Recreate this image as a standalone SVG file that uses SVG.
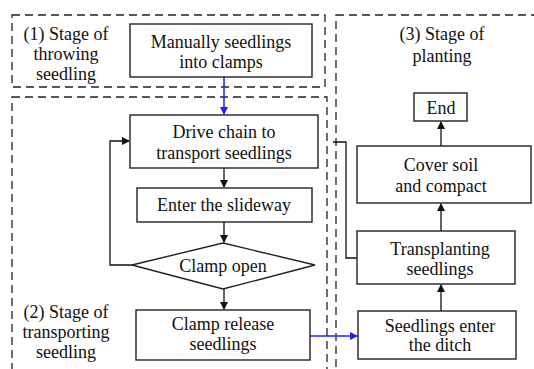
<svg xmlns="http://www.w3.org/2000/svg" width="534" height="369" viewBox="0 0 534 369">
<style>
.bg{fill:#fff}
.stage{fill:none;stroke:#222;stroke-width:1.3;stroke-dasharray:8,5}
.box{fill:#fff;stroke:#222;stroke-width:1.4}
.t{font-size:18px;fill:#111;text-anchor:middle}
.c{fill:none;stroke:#111;stroke-width:1.3}
.b{fill:none;stroke:#1f1fff;stroke-width:1.5}
</style>
<defs>
<marker id="ak" markerWidth="8" markerHeight="8" refX="7" refY="4" orient="auto" markerUnits="userSpaceOnUse">
<path d="M0,0 L8,4 L0,8 Z" fill="#111"/>
</marker>
<marker id="ab" markerWidth="8" markerHeight="8" refX="7" refY="4" orient="auto" markerUnits="userSpaceOnUse">
<path d="M0,0 L8,4 L0,8 Z" fill="#1f1fff"/>
</marker>
</defs>
<rect class="bg" x="0" y="0" width="534" height="369"/>
<g font-family="'Liberation Serif', 'DejaVu Serif', serif">
<g id="stages">
<rect id="stage1" class="stage" x="12" y="15" width="313" height="72"/>
<rect id="stage2" class="stage" x="12" y="97" width="315" height="290"/>
<rect id="stage3" class="stage" x="336" y="15" width="220" height="372"/>
<text class="t" x="66" y="40">(1) Stage of</text>
<text class="t" x="66" y="60">throwing</text>
<text class="t" x="66" y="80">seedling</text>
<text class="t" x="66" y="318">(2) Stage of</text>
<text class="t" x="66" y="338">transporting</text>
<text class="t" x="66" y="358">seedling</text>
<text class="t" x="442" y="40">(3) Stage of</text>
<text class="t" x="442" y="62">planting</text>
</g>
<g id="connectors">
<path class="b" d="M224,77 V114" marker-end="url(#ab)"/>
<path class="c" d="M224,168 V187" marker-end="url(#ak)"/>
<path class="c" d="M224,222 V242" marker-end="url(#ak)"/>
<path class="c" d="M132,265 H110 V141 H129" marker-end="url(#ak)"/>
<path class="c" d="M224,289 V309" marker-end="url(#ak)"/>
<path class="b" d="M310,336 H357" marker-end="url(#ab)"/>
<path class="c" d="M441,311 V285" marker-end="url(#ak)"/>
<path class="c" d="M441,231 V204" marker-end="url(#ak)"/>
<path class="c" d="M441,146 V122" marker-end="url(#ak)"/>
<path class="c" d="M357,258 H346 V142 H333"/>
</g>
<g id="n1">
<rect class="box" x="130" y="24" width="182" height="53"/>
<text class="t" x="221" y="48">Manually seedlings</text>
<text class="t" x="221" y="68">into clamps</text>
</g>
<g id="n2">
<rect class="box" x="130" y="115" width="188" height="53"/>
<text class="t" x="224" y="138">Drive chain to</text>
<text class="t" x="224" y="159">transport seedlings</text>
</g>
<g id="n3">
<rect class="box" x="137" y="188" width="175" height="34"/>
<text class="t" x="224" y="211">Enter the slideway</text>
</g>
<g id="n4">
<polygon class="box" points="223,243 315,265 223,289 132,265"/>
<text class="t" x="223" y="272">Clamp open</text>
</g>
<g id="n5">
<rect class="box" x="136" y="310" width="174" height="50"/>
<text class="t" x="223" y="330">Clamp release</text>
<text class="t" x="223" y="350">seedlings</text>
</g>
<g id="n6">
<rect class="box" x="358" y="311" width="158" height="48"/>
<text class="t" x="440" y="332">Seedlings enter</text>
<text class="t" x="440" y="351">the ditch</text>
</g>
<g id="n7">
<rect class="box" x="357" y="231" width="158" height="53"/>
<text class="t" x="440" y="255">Transplanting</text>
<text class="t" x="440" y="275">seedlings</text>
</g>
<g id="n8">
<rect class="box" x="357" y="146" width="174" height="57"/>
<text class="t" x="441" y="171">Cover soil</text>
<text class="t" x="441" y="192">and compact</text>
</g>
<g id="n9">
<rect class="box" x="414" y="93" width="53" height="28"/>
<text class="t" x="441" y="114">End</text>
</g>
</g>
</svg>
